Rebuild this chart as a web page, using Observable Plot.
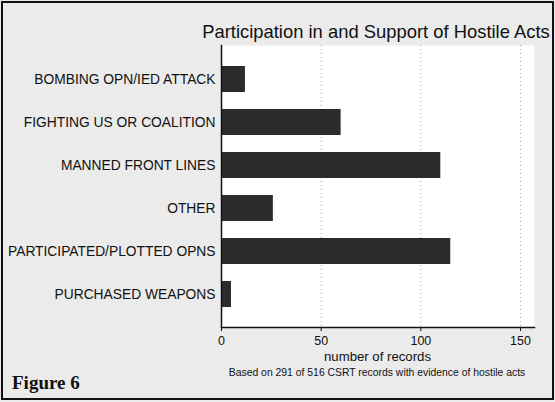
<!DOCTYPE html>
<html>
<head>
<meta charset="utf-8">
<script src="https://cdn.jsdelivr.net/npm/d3@7"></script>
<script src="https://cdn.jsdelivr.net/npm/@observablehq/plot@0.6"></script>
<style>
  html, body { margin: 0; padding: 0; background: #fff; }
  #wrap { position: relative; width: 555px; height: 402px; background: #ebebeb; overflow: hidden; font-family: "Liberation Sans", Arial, sans-serif; }
  #border { position: absolute; left: 1px; top: 1px; width: 549px; height: 395px; border: 2px solid #111; pointer-events: none; }
  #chart { position: absolute; left: 0; top: 0; }
  .title { position: absolute; top: 21px; left: 176px; width: 400px; text-align: center; font-size: 18.4px; color: #111; white-space: nowrap; }
  .xlabel { position: absolute; top: 349px; left: 221px; width: 313px; text-align: center; font-size: 13.2px; color: #111; }
  .caption { position: absolute; top: 367px; left: 177px; width: 400px; text-align: center; font-size: 10.4px; color: #111; white-space: nowrap; }
  .fig { position: absolute; top: 372px; left: 12px; font-family: "Liberation Serif", "Times New Roman", serif; font-weight: bold; font-size: 19px; color: #111; }
</style>
</head>
<body>
<div id="wrap">
  <div id="chart"></div>
  <div class="title">Participation in and Support of Hostile Acts</div>
  <div class="xlabel">number of records</div>
  <div class="caption">Based on 291 of 516 CSRT records with evidence of hostile acts</div>
  <div class="fig">Figure 6</div>
  <div id="border"></div>
</div>
<script>
const categories = [
  "BOMBING OPN/IED ATTACK",
  "FIGHTING US OR COALITION",
  "MANNED FRONT LINES",
  "OTHER",
  "PARTICIPATED/PLOTTED OPNS",
  "PURCHASED WEAPONS"
];
const counts = [12, 60, 110, 26, 115, 5];
const xTicks = [0, 50, 100, 150];

const data = categories.map((c, i) => ({category: c, count: counts[i]}));

const chart = Plot.plot({
  width: 555,
  height: 402,
  marginLeft: 221,
  marginRight: 21,
  marginTop: 45,
  marginBottom: 75,
  style: {background: "transparent", fontFamily: "'Liberation Sans', Arial, sans-serif", fontSize: "12px", color: "#111"},
  x: {domain: [0, 157], ticks: xTicks},
  y: {domain: categories, paddingInner: 0.4, paddingOuter: 0.42},
  marks: [
    Plot.frame({fill: "white", stroke: null}),
    Plot.gridX(xTicks.filter(d => d > 0), {stroke: "#888", strokeOpacity: 0.8, strokeDasharray: "1,3"}),
    Plot.barX(data, {x: "count", y: "category", fill: "#2b2b2b"}),
    Plot.axisX(xTicks, {tickSize: 4, tickPadding: 5, label: null, fontSize: 12.5}),
    Plot.axisY({tickSize: 0, tickPadding: 6, label: null, fontSize: 13.8}),
    Plot.frame({anchor: "bottom", stroke: "#111", strokeWidth: 1.5}),
    Plot.frame({anchor: "left", stroke: "#111", strokeWidth: 1.5})
  ]
});
document.getElementById("chart").appendChild(chart);
</script>
</body>
</html>
